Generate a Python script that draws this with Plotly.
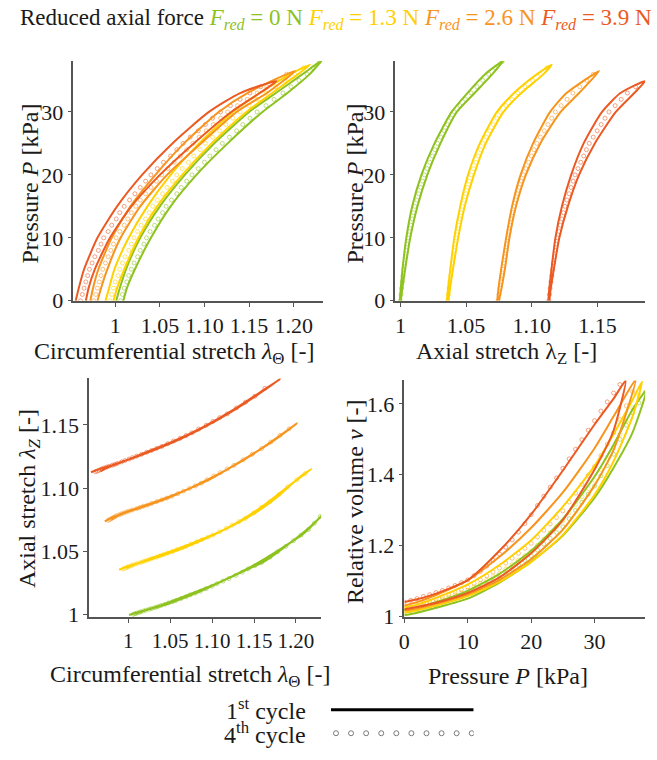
import plotly.graph_objects as go

# ---------------- data ----------------
FORCES = ["0", "1.3", "2.6", "3.9"]
COLORS = ["#8DC21F", "#FFD100", "#F7941D", "#EB5A23"]

# 1st cycle: loading branch then unloading branch
P1_F0 = [0, 2, 5, 10, 15, 20, 25, 30, 33, 36, 38.2, 36, 33, 30, 25, 20, 15, 10, 5, 2, 0]
LT1_F0 = [1.001, 1.005, 1.012, 1.028, 1.050, 1.078, 1.111, 1.150, 1.180, 1.210, 1.2315,
          1.218, 1.193, 1.165, 1.126, 1.091, 1.062, 1.040, 1.022, 1.013, 1.009]
LZ1_F0 = [0.9995, 1.0003, 1.0016, 1.0045, 1.0090, 1.0160, 1.0260, 1.0390, 1.0510, 1.0645, 1.0787,
          1.0700, 1.0565, 1.0430, 1.0305, 1.0205, 1.0130, 1.0075, 1.0036, 1.0015, 1.0003]
V1_F0 = [1.003, 1.010, 1.024, 1.050, 1.095, 1.155, 1.228, 1.335, 1.420, 1.520, 1.640,
         1.585, 1.485, 1.395, 1.275, 1.185, 1.120, 1.072, 1.040, 1.025, 1.018]

P1_F13 = [0, 2, 5, 10, 15, 20, 25, 30, 33, 36, 37.5, 36, 33, 30, 25, 20, 15, 10, 5, 2, 0]
LT1_F13 = [0.989, 0.993, 0.999, 1.015, 1.036, 1.062, 1.094, 1.132, 1.162, 1.196, 1.2185,
           1.205, 1.176, 1.147, 1.108, 1.075, 1.047, 1.026, 1.010, 1.002, 0.998]
LZ1_F13 = [1.0354, 1.0363, 1.0380, 1.0410, 1.0455, 1.0515, 1.0605, 1.0735, 1.0865, 1.1040, 1.1151,
           1.1090, 1.0920, 1.0785, 1.0650, 1.0560, 1.0490, 1.0440, 1.0400, 1.0378, 1.0365]
V1_F13 = [1.010, 1.017, 1.030, 1.057, 1.097, 1.153, 1.230, 1.343, 1.438, 1.565, 1.663,
          1.612, 1.515, 1.425, 1.310, 1.215, 1.145, 1.090, 1.052, 1.033, 1.025]

P1_F26 = [0, 2, 5, 10, 15, 20, 25, 30, 33, 36.5, 33, 30, 25, 20, 15, 10, 5, 2, 0]
LT1_F26 = [0.972, 0.975, 0.981, 0.996, 1.017, 1.045, 1.077, 1.116, 1.148, 1.2015,
           1.170, 1.136, 1.096, 1.058, 1.028, 1.006, 0.991, 0.984, 0.980]
LZ1_F26 = [1.0737, 1.0747, 1.0767, 1.0805, 1.0850, 1.0915, 1.1010, 1.1140, 1.1265, 1.1513,
           1.1360, 1.1220, 1.1065, 1.0955, 1.0880, 1.0830, 1.0795, 1.0770, 1.0750]
V1_F26 = [1.016, 1.022, 1.035, 1.062, 1.103, 1.162, 1.245, 1.370, 1.470, 1.670,
          1.565, 1.475, 1.350, 1.250, 1.168, 1.102, 1.060, 1.040, 1.030]

P1_F39 = [0, 2, 5, 10, 15, 20, 25, 30, 33, 34.9, 33, 30, 25, 20, 15, 10, 5, 2, 0]
LT1_F39 = [0.9556, 0.959, 0.965, 0.980, 1.002, 1.030, 1.064, 1.105, 1.140, 1.181,
           1.162, 1.130, 1.088, 1.050, 1.018, 0.994, 0.977, 0.970, 0.967]
LZ1_F39 = [1.1126, 1.1134, 1.1150, 1.1180, 1.1230, 1.1300, 1.1395, 1.1535, 1.1675, 1.1863,
           1.1780, 1.1640, 1.1480, 1.1360, 1.1275, 1.1210, 1.1168, 1.1145, 1.1134]
V1_F39 = [1.020, 1.026, 1.038, 1.066, 1.110, 1.178, 1.272, 1.415, 1.525, 1.666,
          1.615, 1.542, 1.412, 1.288, 1.185, 1.102, 1.064, 1.048, 1.040]

# 4th cycle (circles), one reading per kPa
P4_F0 = [0, 1, 2, 3, 4, 5, 6, 7, 8, 9, 10, 11, 12, 13, 14, 15, 16, 17, 18, 19,
         20, 21, 22, 23, 24, 25, 26, 27, 28, 29, 30, 31, 32, 33, 34, 35, 36, 37, 38]
LT4_F0 = [1.006, 1.008, 1.010, 1.013, 1.015, 1.018, 1.021, 1.025, 1.028, 1.032,
          1.035, 1.039, 1.044, 1.048, 1.053, 1.057, 1.063, 1.069, 1.074, 1.080,
          1.086, 1.093, 1.100, 1.106, 1.113, 1.120, 1.128, 1.136, 1.143, 1.151,
          1.159, 1.169, 1.178, 1.188, 1.197, 1.206, 1.215, 1.222, 1.229]
LZ4_F0 = [1.0000, 1.0005, 1.0009, 1.0015, 1.0020, 1.0026, 1.0033, 1.0040, 1.0046, 1.0053,
          1.0060, 1.0070, 1.0080, 1.0090, 1.0100, 1.0110, 1.0125, 1.0139, 1.0154, 1.0168,
          1.0183, 1.0203, 1.0223, 1.0243, 1.0263, 1.0283, 1.0308, 1.0334, 1.0359, 1.0385,
          1.0410, 1.0453, 1.0495, 1.0538, 1.0583, 1.0627, 1.0672, 1.0722, 1.0775]
V4_F0 = [1.012, 1.016, 1.019, 1.024, 1.028, 1.033, 1.039, 1.045, 1.050, 1.056,
         1.062, 1.071, 1.080, 1.090, 1.099, 1.108, 1.121, 1.133, 1.146, 1.158,
         1.171, 1.187, 1.204, 1.220, 1.237, 1.253, 1.276, 1.299, 1.322, 1.345,
         1.368, 1.397, 1.426, 1.458, 1.500, 1.540, 1.575, 1.603, 1.632]

P4_F13 = [0, 1, 2, 3, 4, 5, 6, 7, 8, 9, 10, 11, 12, 13, 14, 15, 16, 17, 18, 19,
          20, 21, 22, 23, 24, 25, 26, 27, 28, 29, 30, 31, 32, 33, 34, 35, 36, 37]
LT4_F13 = [0.994, 0.996, 0.998, 1.000, 1.003, 1.005, 1.008, 1.011, 1.015, 1.018,
           1.021, 1.025, 1.029, 1.034, 1.038, 1.042, 1.047, 1.053, 1.058, 1.064,
           1.069, 1.075, 1.082, 1.088, 1.095, 1.101, 1.109, 1.117, 1.124, 1.132,
           1.140, 1.150, 1.159, 1.169, 1.180, 1.190, 1.201, 1.211]
LZ4_F13 = [1.0360, 1.0365, 1.0370, 1.0377, 1.0383, 1.0390, 1.0397, 1.0404, 1.0411, 1.0418,
           1.0425, 1.0434, 1.0444, 1.0453, 1.0463, 1.0472, 1.0485, 1.0498, 1.0512, 1.0525,
           1.0538, 1.0556, 1.0574, 1.0592, 1.0610, 1.0628, 1.0654, 1.0681, 1.0707, 1.0734,
           1.0760, 1.0804, 1.0849, 1.0893, 1.0950, 1.1008, 1.1065, 1.1115]
V4_F13 = [1.018, 1.022, 1.025, 1.030, 1.036, 1.041, 1.048, 1.054, 1.061, 1.067,
          1.074, 1.083, 1.093, 1.102, 1.112, 1.121, 1.134, 1.146, 1.159, 1.171,
          1.184, 1.201, 1.218, 1.236, 1.253, 1.270, 1.293, 1.316, 1.338, 1.361,
          1.384, 1.415, 1.446, 1.477, 1.514, 1.551, 1.589, 1.625]

P4_F26 = [0, 1, 2, 3, 4, 5, 6, 7, 8, 9, 10, 11, 12, 13, 14, 15, 16, 17, 18, 19,
          20, 21, 22, 23, 24, 25, 26, 27, 28, 29, 30, 31, 32, 33, 34, 35, 36]
LT4_F26 = [0.976, 0.978, 0.980, 0.982, 0.984, 0.986, 0.989, 0.992, 0.995, 0.998,
           1.001, 1.005, 1.010, 1.014, 1.018, 1.023, 1.028, 1.034, 1.040, 1.046,
           1.052, 1.059, 1.066, 1.073, 1.080, 1.087, 1.094, 1.102, 1.110, 1.118,
           1.126, 1.137, 1.148, 1.159, 1.170, 1.181, 1.192]
LZ4_F26 = [1.0744, 1.0751, 1.0758, 1.0766, 1.0773, 1.0781, 1.0788, 1.0796, 1.0803, 1.0811,
           1.0818, 1.0827, 1.0837, 1.0846, 1.0856, 1.0865, 1.0879, 1.0893, 1.0907, 1.0921,
           1.0935, 1.0956, 1.0976, 1.0997, 1.1017, 1.1038, 1.1066, 1.1095, 1.1123, 1.1152,
           1.1180, 1.1224, 1.1269, 1.1313, 1.1365, 1.1418, 1.1470]
V4_F26 = [1.023, 1.027, 1.031, 1.037, 1.042, 1.048, 1.054, 1.061, 1.068, 1.075,
          1.082, 1.093, 1.103, 1.114, 1.125, 1.136, 1.150, 1.164, 1.178, 1.192,
          1.206, 1.224, 1.243, 1.261, 1.279, 1.298, 1.323, 1.348, 1.373, 1.398,
          1.423, 1.454, 1.486, 1.518, 1.556, 1.595, 1.635]

P4_F39 = [0, 1, 2, 3, 4, 5, 6, 7, 8, 9, 10, 11, 12, 13, 14, 15, 16, 17, 18, 19,
          20, 21, 22, 23, 24, 25, 26, 27, 28, 29, 30, 31, 32, 33, 34]
LT4_F39 = [0.961, 0.963, 0.965, 0.967, 0.969, 0.971, 0.974, 0.977, 0.981, 0.984,
           0.987, 0.992, 0.996, 1.001, 1.005, 1.010, 1.016, 1.022, 1.028, 1.034,
           1.040, 1.047, 1.054, 1.062, 1.069, 1.076, 1.084, 1.093, 1.101, 1.109,
           1.118, 1.129, 1.140, 1.151, 1.163]
LZ4_F39 = [1.1130, 1.1135, 1.1140, 1.1146, 1.1153, 1.1159, 1.1166, 1.1173, 1.1181, 1.1188,
           1.1195, 1.1207, 1.1218, 1.1230, 1.1241, 1.1253, 1.1268, 1.1284, 1.1299, 1.1315,
           1.1330, 1.1352, 1.1373, 1.1395, 1.1416, 1.1438, 1.1468, 1.1498, 1.1528, 1.1558,
           1.1588, 1.1635, 1.1681, 1.1728, 1.1790]
V4_F39 = [1.040, 1.045, 1.050, 1.056, 1.061, 1.067, 1.073, 1.080, 1.087, 1.095,
          1.103, 1.115, 1.127, 1.142, 1.158, 1.176, 1.195, 1.216, 1.238, 1.262,
          1.287, 1.313, 1.339, 1.365, 1.391, 1.418, 1.445, 1.472, 1.499, 1.526,
          1.553, 1.580, 1.606, 1.631, 1.655]

# tick labels
LT_TICKS = [1, 1.05, 1.10, 1.15, 1.20]
LT_TEXT = ["1", "1.05", "1.10", "1.15", "1.20"]
LZ_TICKS = [1, 1.05, 1.10, 1.15]
LZ_TEXT = ["1", "1.05", "1.10", "1.15"]
P_TICKS = [0, 10, 20, 30]
P_TEXT = ["0", "10", "20", "30"]
V_TICKS = [1, 1.2, 1.4, 1.6]
V_TEXT = ["1", "1.2", "1.4", "1.6"]
LEGEND_SAMPLES = list(range(10))

cycle1 = [(P1_F0, LT1_F0, LZ1_F0, V1_F0), (P1_F13, LT1_F13, LZ1_F13, V1_F13),
          (P1_F26, LT1_F26, LZ1_F26, V1_F26), (P1_F39, LT1_F39, LZ1_F39, V1_F39)]
cycle4 = [(P4_F0, LT4_F0, LZ4_F0, V4_F0), (P4_F13, LT4_F13, LZ4_F13, V4_F13),
          (P4_F26, LT4_F26, LZ4_F26, V4_F26), (P4_F39, LT4_F39, LZ4_F39, V4_F39)]

# ---------------- figure ----------------
W, H = 657, 760
FONT = "Liberation Serif"
TXT = "#1a1a1a"
AXC = "#555555"
TICK_SIZE = 22
TITLE_SIZE = 24


def px(x):
    return x / W


def py(y):
    return 1 - y / H


fig = go.Figure()

# panel definitions: (xaxis id, yaxis id, x variable index, y variable index)
panels = [("x", "y", 1, 0), ("x2", "y2", 2, 0), ("x3", "y3", 1, 2), ("x4", "y4", 0, 3)]

for xa, ya, ix, iy in panels:
    for k in range(4):
        d4 = cycle4[k]
        fig.add_trace(go.Scatter(
            x=d4[ix], y=d4[iy], xaxis=xa, yaxis=ya, mode="markers",
            marker=dict(symbol="circle-open", size=4, color=COLORS[k], opacity=0.55,
                        line=dict(width=1, color=COLORS[k])),
            showlegend=False, hoverinfo="skip"))
    for k in range(4):
        d1 = cycle1[k]
        fig.add_trace(go.Scatter(
            x=d1[ix], y=d1[iy], xaxis=xa, yaxis=ya, mode="lines",
            line=dict(color=COLORS[k], width=2, shape="spline", smoothing=0.6),
            showlegend=False, hoverinfo="skip"))

# legend key traces
fig.add_trace(go.Scatter(x=[LEGEND_SAMPLES[0] - 0.33, LEGEND_SAMPLES[-1] + 0.13], y=[1, 1],
                         xaxis="x5", yaxis="y5", mode="lines",
                         line=dict(color="#000000", width=3), showlegend=False, hoverinfo="skip"))
fig.add_trace(go.Scatter(x=LEGEND_SAMPLES, y=[0] * len(LEGEND_SAMPLES), xaxis="x5", yaxis="y5",
                         mode="markers",
                         marker=dict(symbol="circle-open", size=5, color="#7a7a7a",
                                     line=dict(width=1, color="#7a7a7a")),
                         showlegend=False, hoverinfo="skip"))


def axis(domain, rng, tv, tt, anchor, size=TICK_SIZE):
    return dict(domain=domain, range=rng, tickvals=tv, ticktext=tt, anchor=anchor,
                showline=True, linecolor=AXC, linewidth=1.5, ticks="outside", ticklen=4,
                tickwidth=1.2, tickcolor=AXC, showgrid=False, zeroline=False, tickangle=0,
                tickfont=dict(family=FONT, size=size, color=TXT), fixedrange=True)


top_dom = [py(306), py(62)]
fig.update_layout(
    width=W, height=H, margin=dict(l=0, r=0, t=0, b=0),
    paper_bgcolor="white", plot_bgcolor="white", showlegend=False,
    xaxis=axis([px(68), px(320)], [0.953, 1.233], LT_TICKS, LT_TEXT, "y"),
    yaxis=axis(top_dom, [0, 38.1], P_TICKS, P_TEXT, "x"),
    xaxis2=axis([px(393), px(645)], [0.9962, 1.1863], LZ_TICKS, LZ_TEXT, "y2"),
    yaxis2=axis(top_dom, [0, 38.1], P_TICKS, P_TEXT, "x2"),
    xaxis3=axis([px(84), px(318)], [0.9535, 1.230], LT_TICKS, LT_TEXT, "y3", size=21),
    yaxis3=axis([py(628), py(385)], [0.99766, 1.1869], LZ_TICKS, LZ_TEXT, "x3"),
    xaxis4=axis([px(402), px(645)], [0, 37.97], P_TICKS, P_TEXT, "y4"),
    yaxis4=axis([py(628), py(387)], [0.9972, 1.6667], V_TICKS, V_TEXT, "x4"),
    xaxis5=dict(domain=[px(328), px(472)], range=[-0.33, 9.13], visible=False, anchor="y5",
                fixedrange=True),
    yaxis5=dict(domain=[py(750), py(718)], range=[-0.167, 1.167], visible=False, anchor="x5",
                fixedrange=True),
)

ann = []


def text(x, y, s, size=TITLE_SIZE, angle=0, xanchor="center", color=TXT):
    ann.append(dict(x=px(x), y=py(y), xref="paper", yref="paper", text=s, showarrow=False,
                    textangle=angle, xanchor=xanchor, yanchor="middle",
                    font=dict(family=FONT, size=size, color=color)))


# title
parts = ["Reduced axial force"]
for f, c in zip(FORCES, COLORS):
    parts.append('<span style="color:%s"><i>F</i><sub><i>red</i></sub> = %s N</span>' % (c, f))
text(12, 19, " ".join(parts), size=23, xanchor="left")

# axis titles
text(170, 359, "Circumferential stretch <i>λ</i><sub>Θ</sub> [-]")
text(505, 359, "Axial stretch λ<sub>Z</sub> [-]")
text(186, 688, "Circumferential stretch <i>λ</i><sub>Θ</sub> [-]")
text(507, 688, "Pressure <i>P</i> [kPa]")
text(24, 187, "Pressure <i>P</i> [kPa]", angle=-90)
text(352, 187, "Pressure <i>P</i> [kPa]", angle=-90)
text(24, 507, "Axial stretch <i>λ<sub>Z</sub></i> [-]", angle=-90)
text(352, 510, "Relative volume <i>v</i> [-]", angle=-90)

# legend labels
text(305, 721, "1<sup>st</sup> cycle", xanchor="right")
text(305, 746, "4<sup>th</sup> cycle", xanchor="right")

fig.update_layout(annotations=ann)
fig.write_html("out.html")
